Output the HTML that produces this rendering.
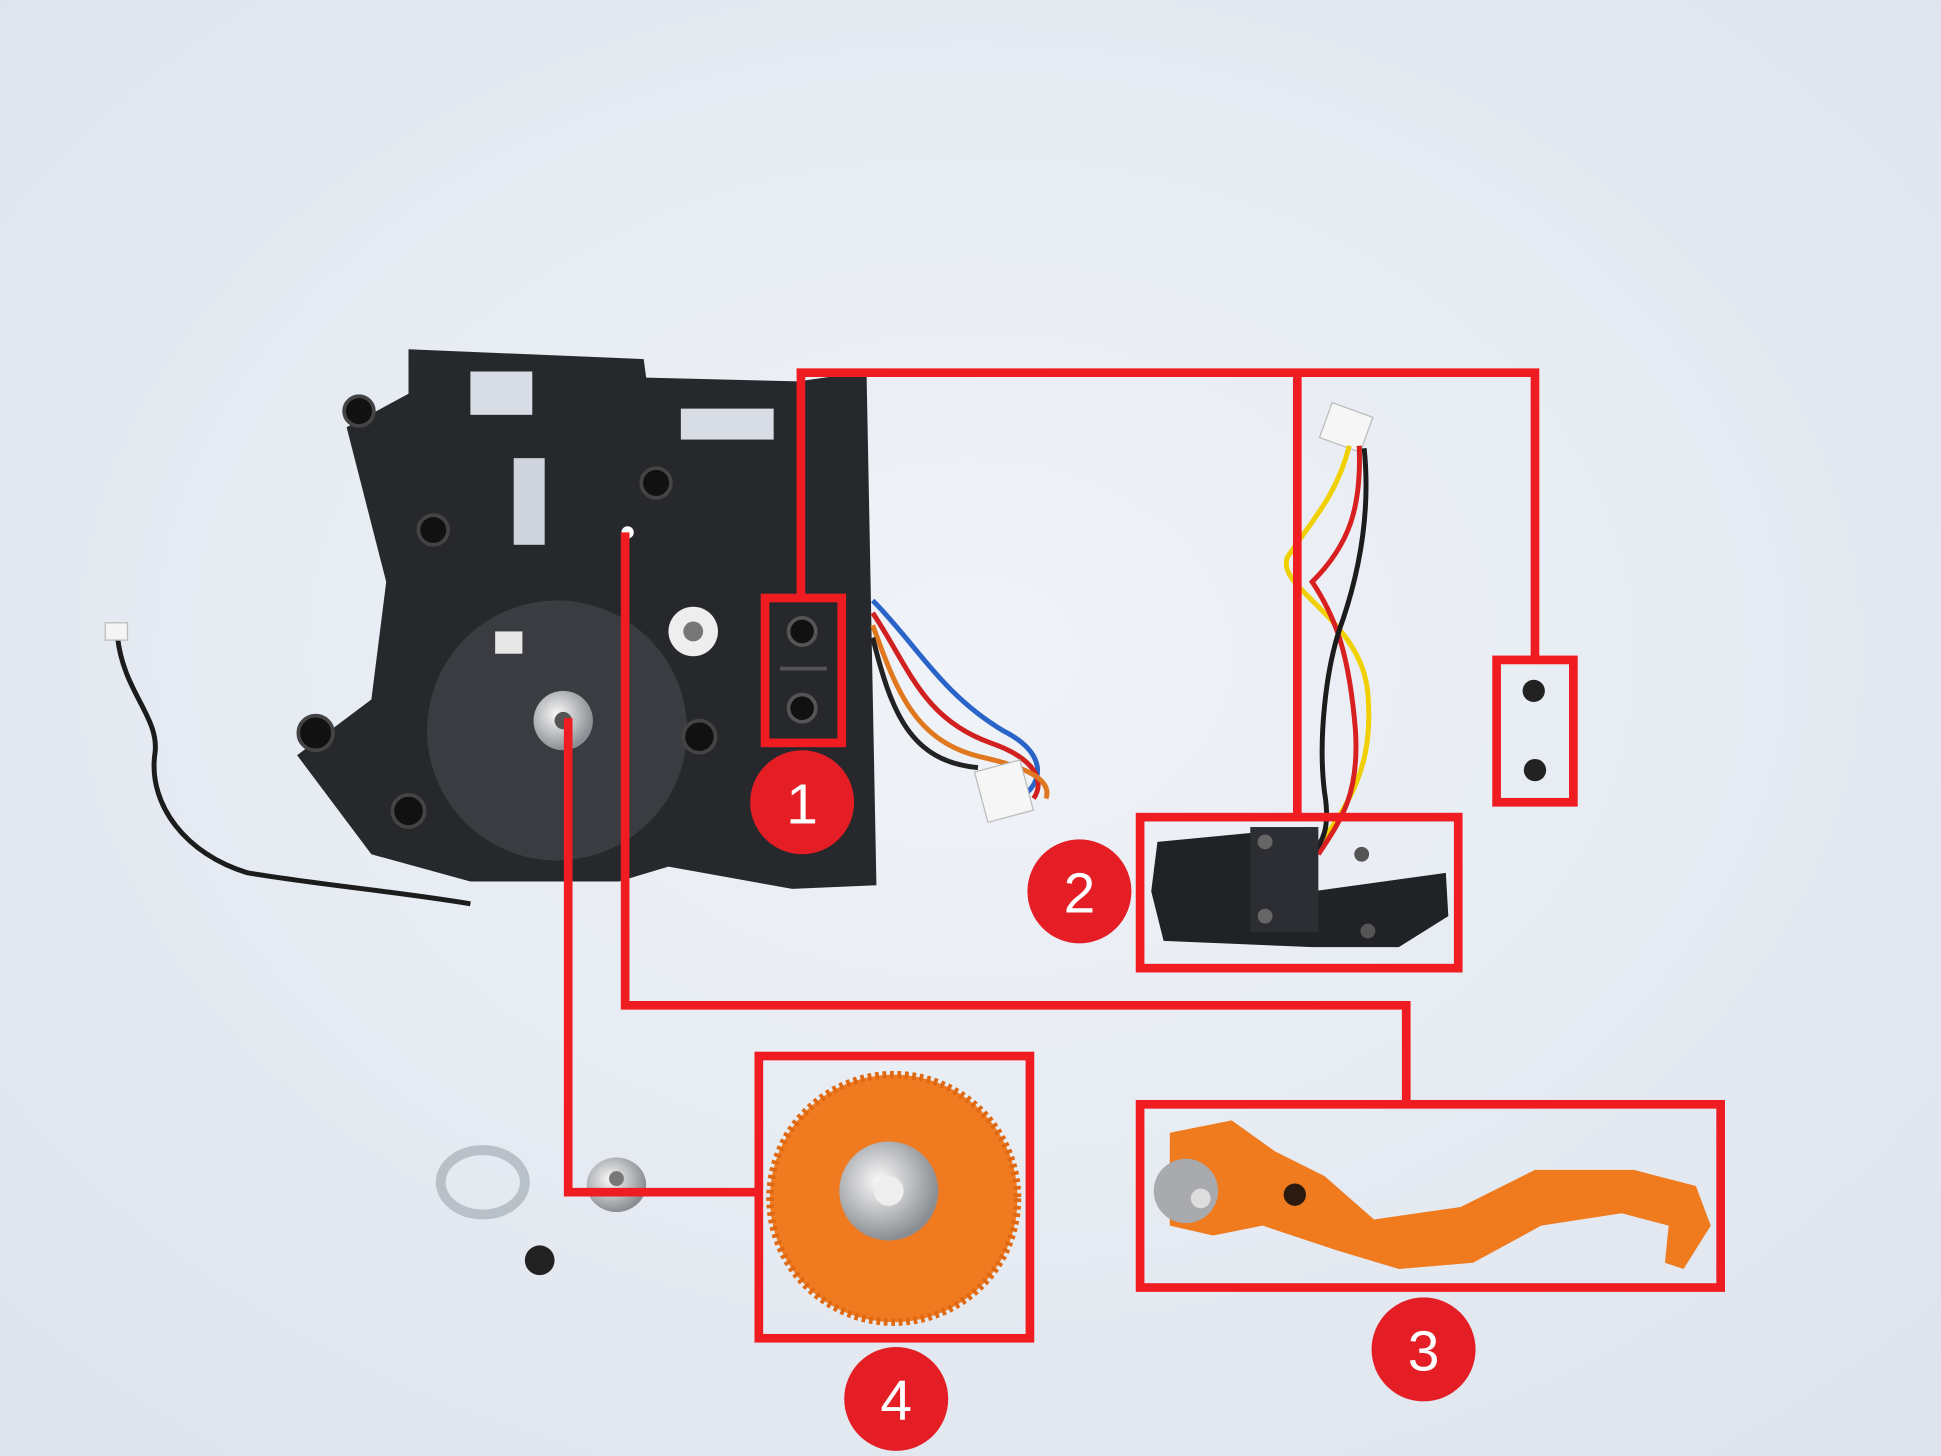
<!DOCTYPE html>
<html><head><meta charset="utf-8"><style>
html,body{margin:0;padding:0;width:1941px;height:1456px;overflow:hidden;background:#e4e8f0}
svg{display:block}
</style></head><body>
<svg width="1941" height="1456" viewBox="0 0 1568 1176" xmlns="http://www.w3.org/2000/svg">
<defs>
<radialGradient id="bg" cx="0.5" cy="0.45" r="0.8">
<stop offset="0" stop-color="#f0f3f8"/><stop offset="1" stop-color="#dce2ec"/></radialGradient>
<radialGradient id="sil" cx="0.4" cy="0.4" r="0.6"><stop offset="0" stop-color="#fafafa"/><stop offset="1" stop-color="#8a8d92"/></radialGradient>
</defs>
<rect width="1568" height="1176" fill="url(#bg)"/>
<path d="M95,515 C100,560 130,580 125,610 C120,650 150,690 200,705 C260,715 320,720 380,730" fill="none" stroke="#1c1c1c" stroke-width="4"/>
<rect x="85" y="503" width="18" height="14" fill="#f4f4f4" stroke="#bbb"/>
<polygon points="330,282 520,290 522,305 645,308 700,300 708,715 640,718 540,700 500,712 380,712 300,690 240,610 300,565 312,470 280,345 330,318" fill="#26282c"/>
<rect x="380" y="300" width="50" height="35" fill="#d8dce4"/>
<rect x="550" y="330" width="75" height="25" fill="#d8dce4"/>
<rect x="415" y="370" width="25" height="70" fill="#cfd4dc"/>
<circle cx="450" cy="590" r="105" fill="#3a3c41"/>
<circle cx="455" cy="582" r="24" fill="url(#sil)"/><circle cx="455" cy="582" r="7" fill="#555"/>
<circle cx="560" cy="510" r="20" fill="#eee"/><circle cx="560" cy="510" r="8" fill="#777"/>
<circle cx="290" cy="332" r="12" fill="#111" stroke="#444" stroke-width="3"/>
<circle cx="255" cy="592" r="14" fill="#111" stroke="#444" stroke-width="3"/>
<circle cx="330" cy="655" r="13" fill="#111" stroke="#444" stroke-width="3"/>
<circle cx="565" cy="595" r="13" fill="#111" stroke="#444" stroke-width="3"/>
<circle cx="530" cy="390" r="12" fill="#111" stroke="#444" stroke-width="3"/>
<circle cx="350" cy="428" r="12" fill="#111" stroke="#444" stroke-width="3"/>
<circle cx="648" cy="510" r="11" fill="#111" stroke="#555" stroke-width="3"/>
<circle cx="648" cy="572" r="11" fill="#111" stroke="#555" stroke-width="3"/>
<line x1="630" y1="540" x2="668" y2="540" stroke="#555" stroke-width="3"/>
<rect x="400" y="510" width="22" height="18" fill="#e8e8e8"/>
<circle cx="507" cy="430" r="5" fill="#fff"/>
<path d="M705,485 C740,520 760,560 810,590 C840,605 845,625 830,640" fill="none" stroke="#2a64c8" stroke-width="4"/>
<path d="M705,495 C735,540 745,580 800,600 C835,612 845,630 835,645" fill="none" stroke="#d02020" stroke-width="4"/>
<path d="M705,505 C725,560 740,600 795,612 C830,620 850,630 845,645" fill="none" stroke="#e07820" stroke-width="4"/>
<path d="M705,515 C720,575 735,615 790,620" fill="none" stroke="#222" stroke-width="4"/>
<rect x="792" y="618" width="38" height="42" fill="#f6f6f6" stroke="#bbb" transform="rotate(-15 811 639)"/>
<rect x="1070" y="330" width="35" height="30" fill="#f6f6f6" stroke="#bbb" transform="rotate(20 1087 345)"/>
<path d="M1090,360 C1080,400 1060,420 1040,450 C1030,475 1100,500 1105,560 C1110,620 1090,650 1060,690" fill="none" stroke="#f0d000" stroke-width="4"/>
<path d="M1098,360 C1100,410 1090,440 1060,470 C1080,500 1090,530 1095,590 C1098,640 1085,660 1065,690" fill="none" stroke="#d82020" stroke-width="4"/>
<path d="M1102,362 C1108,420 1095,470 1085,500 C1070,540 1065,600 1070,640 C1075,670 1068,680 1060,690" fill="none" stroke="#1c1c1c" stroke-width="4"/>
<path d="M935,680 L1060,668 L1060,720 L1168,705 L1170,740 L1130,765 L1060,765 L940,760 L930,720 Z" fill="#202226"/>
<rect x="1010" y="668" width="55" height="85" fill="#2c2e33"/>
<circle cx="1022" cy="680" r="6" fill="#666"/><circle cx="1022" cy="740" r="6" fill="#666"/>
<circle cx="1100" cy="690" r="6" fill="#555"/><circle cx="1105" cy="752" r="6" fill="#555"/>
<circle cx="1239" cy="558" r="9" fill="#222"/><circle cx="1240" cy="622" r="9" fill="#222"/>
<circle cx="436" cy="1018" r="12" fill="#222"/>
<ellipse cx="390" cy="955" rx="34" ry="26" fill="none" stroke="#b8c0c8" stroke-width="8"/>
<ellipse cx="498" cy="957" rx="24" ry="22" fill="url(#sil)"/><circle cx="498" cy="952" r="6" fill="#777"/>
<circle cx="722" cy="968" r="100" fill="#f07a20" stroke="#e06810" stroke-width="6" stroke-dasharray="3 3"/>
<circle cx="718" cy="962" r="40" fill="url(#sil)"/><circle cx="718" cy="962" r="12" fill="#eee"/>
<path d="M945,915 L995,905 L1030,930 L1070,950 L1110,985 L1180,975 L1240,945 L1320,945 L1370,958 L1382,990 L1360,1025 L1345,1020 L1348,990 L1310,980 L1245,990 L1190,1020 L1130,1025 L1080,1010 L1020,990 L980,998 L945,990 Z" fill="#f07a1e"/>
<circle cx="958" cy="962" r="26" fill="#a8aaae"/><circle cx="970" cy="968" r="8" fill="#ddd"/>
<circle cx="1046" cy="965" r="9" fill="#2a1a10"/>
<g fill="none" stroke="#ef1c22" stroke-width="7">
<polyline points="647,483 647,301 1240,301 1240,533"/>
<line x1="1048" y1="301" x2="1048" y2="660"/>
<rect x="618" y="483" width="62" height="117"/>
<rect x="921" y="660" width="257" height="122"/>
<rect x="1209" y="533" width="62" height="115"/>
<polyline points="505,430 505,812 1136,812 1136,892"/>
<rect x="921" y="892" width="469" height="148"/>
<polyline points="459,580 459,963 613,963"/>
<rect x="613" y="853" width="219" height="228"/>
</g>
<g fill="#e41e24">
<circle cx="648" cy="648" r="42"/><circle cx="872" cy="720" r="42"/>
<circle cx="1150" cy="1090" r="42"/><circle cx="724" cy="1130" r="42"/>
</g>
<g fill="#fff" font-family="Liberation Sans, sans-serif" font-size="46" text-anchor="middle">
<text x="648" y="665">1</text><text x="872" y="737">2</text>
<text x="1150" y="1107">3</text><text x="724" y="1147">4</text>
</g>
</svg>
</body></html>
